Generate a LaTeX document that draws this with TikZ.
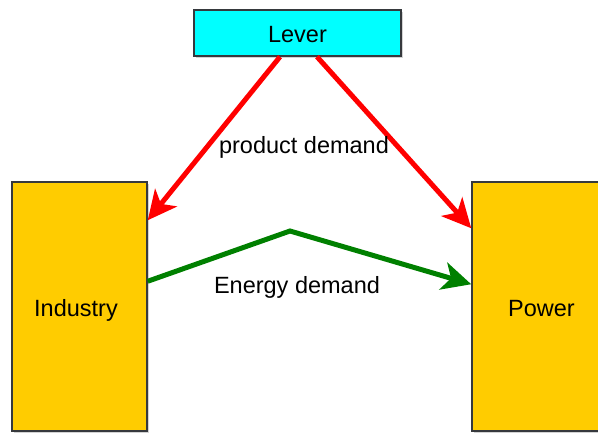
\documentclass[tikz,border=0pt]{standalone}
\usepackage{fontspec}
\setmainfont{Liberation Sans}
\usetikzlibrary{arrows.meta,calc,shadows}

\definecolor{boxcyan}{HTML}{00FFFF}
\definecolor{boxamber}{HTML}{FFCC00}
\definecolor{edgegray}{HTML}{36393D}
\definecolor{flowred}{HTML}{FF0000}
\definecolor{flowgreen}{HTML}{008000}

\tikzset{
  block/.style={draw=edgegray, line width=1.5pt, rectangle, inner sep=0pt,
    drop shadow={shadow xshift=2pt, shadow yshift=-2pt, opacity=0.35, fill=gray}},
  label/.style={font=\fontsize{23.5}{28}\selectfont, anchor=base, inner sep=0pt},
  flow/.style={line width=5pt, -{Stealth[length=29pt, width=28pt, inset=8pt]}},
}

\begin{document}
\begin{tikzpicture}[x=1pt, y=-1pt]
  \useasboundingbox (0,0) rectangle (598,432);

  % boxes
  \node[block, fill=boxcyan, minimum width=207pt, minimum height=46pt] (lever) at (297.5,33) {};
  \node[block, fill=boxamber, minimum width=135pt, minimum height=249pt] (industry) at (79.5,306.5) {};
  \node[block, fill=boxamber, minimum width=139pt, minimum height=249pt] (power) at (541.5,306.5) {};

  % box captions
  \node[label] (levertext) at (297.5,42.5) {Lever};
  \node[label] (industrytext) at (76,316) {Industry};
  \node[label] (powertext) at (541.5,316) {Power};

  % product demand flows
  \draw[flow, flowred] ($(lever.south)+(-17.5,0)$) -- ($(industry.north east)+(0,39)$);
  \draw[flow, flowred] ($(lever.south)+(19.5,0)$) -- ($(power.north west)+(0,47)$);
  \node[label] (productlabel) at (304,153) {product demand};

  % energy demand flow
  \coordinate (bend) at (290,231);
  \draw[flow, flowgreen, line join=miter] ($(industry.north east)+(0,100)$) -- (bend) -- ($(power.north west)+(0,103)$);
  \node[label] (energylabel) at (297,293) {Energy demand};
\end{tikzpicture}
\end{document}
